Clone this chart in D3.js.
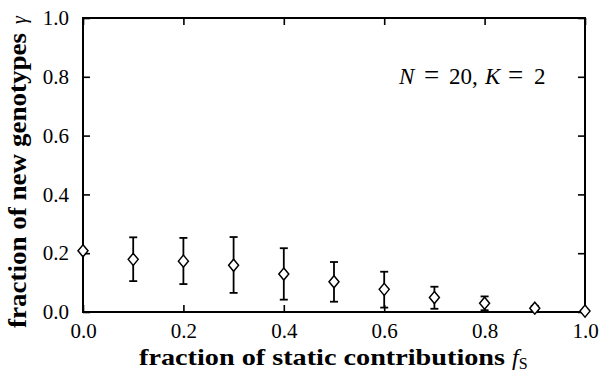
<!DOCTYPE html>
<html><head><meta charset="utf-8">
<script src="https://cdn.jsdelivr.net/npm/d3@7"></script>
<style>body{margin:0;background:#fff}svg{display:block}</style>
</head><body>
<svg id="c" width="599" height="374"></svg>
<script>
const fS = [0.0, 0.1, 0.2, 0.3, 0.4, 0.5, 0.6, 0.7, 0.8, 0.9, 1.0];
const gamma = [0.208, 0.179, 0.173, 0.159, 0.129, 0.103, 0.077, 0.049, 0.030, 0.013, 0.003];
const gammaHi = [0.208, 0.254, 0.252, 0.255, 0.217, 0.170, 0.137, 0.086, 0.053, 0.021, 0.003];
const gammaLo = [0.208, 0.105, 0.095, 0.065, 0.042, 0.035, 0.015, 0.011, 0.006, 0.005, 0.003];
const xTicks = [0, 0.2, 0.4, 0.6, 0.8, 1.0];
const yTicks = [0, 0.2, 0.4, 0.6, 0.8, 1.0];

const svg = d3.select("#c");
const L = 83, R = 585, T = 18, B = 312;
const x = d3.scaleLinear().domain([0, 1]).range([L, R]);
const y = d3.scaleLinear().domain([0, 1]).range([B, T]);
const serif = "Liberation Serif";
const tk = 7;

svg.append("rect").attr("x", L).attr("y", T).attr("width", R - L).attr("height", B - T)
  .attr("fill", "none").attr("stroke", "#000").attr("stroke-width", 2);

function styleAxis(g) {
  g.attr("font-family", serif).attr("font-size", 21);
  g.select(".domain").remove();
  g.selectAll(".tick line").attr("stroke", "#000").attr("stroke-width", 1.6);
  g.selectAll(".tick text").attr("font-family", serif).attr("font-size", 21).attr("fill", "#000");
}
svg.append("g").attr("transform", `translate(0,${B})`)
  .call(d3.axisBottom(x).tickValues(xTicks).tickFormat(d3.format(".1f")).tickSizeInner(-tk).tickPadding(11))
  .call(styleAxis);
svg.append("g").attr("transform", `translate(0,${T})`)
  .call(d3.axisTop(x).tickValues(xTicks).tickFormat("").tickSizeInner(-tk))
  .call(styleAxis);
svg.append("g").attr("transform", `translate(${L},0)`)
  .call(d3.axisLeft(y).tickValues(yTicks).tickFormat(d3.format(".1f")).tickSizeInner(-tk).tickPadding(14))
  .call(styleAxis);
svg.append("g").attr("transform", `translate(${R},0)`)
  .call(d3.axisRight(y).tickValues(yTicks).tickFormat("").tickSizeInner(-tk))
  .call(styleAxis);

const data = fS.map((f, i) => ({ f, g: gamma[i], hi: gammaHi[i], lo: gammaLo[i] }));
const eb = svg.append("g").attr("stroke", "#000").attr("stroke-width", 1.8);
data.filter(d => d.hi - d.lo > 0.001).forEach(d => {
  eb.append("line").attr("x1", x(d.f)).attr("x2", x(d.f)).attr("y1", y(d.hi)).attr("y2", y(d.lo));
  [d.hi, d.lo].forEach(v => eb.append("line").attr("x1", x(d.f) - 4).attr("x2", x(d.f) + 4)
    .attr("y1", y(v)).attr("y2", y(v)));
});
svg.append("g").selectAll("path").data(data).join("path")
  .attr("d", d => {
    const cx = x(d.f), cy = y(d.g), w = 5, h = 6;
    return `M${cx},${cy - h}L${cx + w},${cy}L${cx},${cy + h}L${cx - w},${cy}Z`;
  })
  .attr("fill", "#fff").attr("stroke", "#000").attr("stroke-width", 1.5);

// x title
svg.append("text").attr("x", 139).attr("y", 365)
  .attr("font-family", serif).attr("font-size", 24).attr("font-weight", "bold").attr("fill", "#000")
  .attr("textLength", 366).attr("lengthAdjust", "spacingAndGlyphs")
  .text("fraction of static contributions");
const fx = svg.append("text").attr("x", 512).attr("y", 365)
  .attr("font-family", serif).attr("font-size", 24).attr("fill", "#000");
fx.append("tspan").attr("font-style", "italic").text("f");
fx.append("tspan").attr("font-size", 16).attr("dy", 4).text("S");

// y title
svg.append("text").attr("transform", "translate(26,328) rotate(-90)")
  .attr("font-family", serif).attr("font-size", 26).attr("font-weight", "bold").attr("fill", "#000")
  .attr("textLength", 295).attr("lengthAdjust", "spacingAndGlyphs")
  .text("fraction of new genotypes");
svg.append("text").attr("transform", "translate(26,24) rotate(-90)")
  .attr("font-family", serif).attr("font-size", 20).attr("font-style", "italic").attr("fill", "#000")
  .text("γ");

// annotation
const an = svg.append("text").attr("y", 84)
  .attr("font-family", serif).attr("font-size", 23).attr("fill", "#000");
an.append("tspan").attr("x", 399).attr("font-style", "italic").text("N");
an.append("tspan").attr("x", 424).attr("font-size", 27).text("=");
an.append("tspan").attr("x", 449).attr("font-size", 23).text("20,");
an.append("tspan").attr("x", 485).attr("font-style", "italic").text("K");
an.append("tspan").attr("x", 508).attr("font-size", 27).text("=");
an.append("tspan").attr("x", 534).attr("font-size", 23).text("2");
</script>
</body></html>
